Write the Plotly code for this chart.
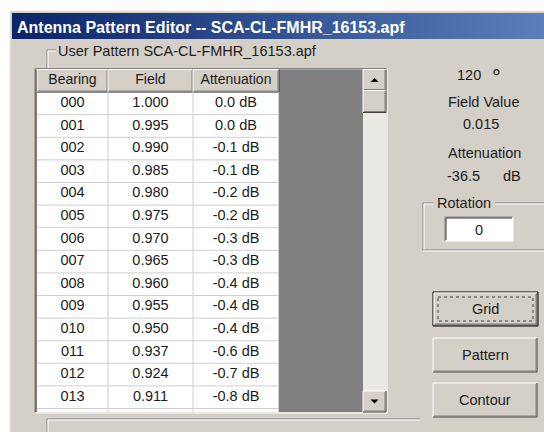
import plotly.graph_objects as go

# ---------------- data ----------------
columns = ["Bearing", "Field", "Attenuation"]
bearing = ["000", "001", "002", "003", "004", "005", "006", "007",
           "008", "009", "010", "011", "012", "013"]
field = [1.000, 0.995, 0.990, 0.985, 0.980, 0.975, 0.970, 0.965,
         0.960, 0.955, 0.950, 0.937, 0.924, 0.911]
attenuation_db = [0.0, 0.0, -0.1, -0.1, -0.2, -0.2, -0.3, -0.3,
                  -0.4, -0.4, -0.4, -0.6, -0.7, -0.8]
title_text = "Antenna Pattern Editor -- SCA-CL-FMHR_16153.apf"
group_text = "User Pattern SCA-CL-FMHR_16153.apf"
bearing_sel = "120"
field_value = "0.015"
atten_value = "-36.5"
rotation_value = "0"
buttons = ["Grid", "Pattern", "Contour"]

# ---------------- layout constants ----------------
W, H = 544, 432
FONT = "Liberation Sans, Arial, sans-serif"
FS = 14.5
TXT = "#1c1c1c"
BG = "#d4d0c8"
DARK = "#808080"
COL_EDGES = [37, 108, 193, 279]
HEAD_TOP = 69.5
ROW_H = 22.6
TABLE_BOTTOM = 412
SB_X0, SB_X1 = 363, 386

shapes = []


def rect(x0, y0, x1, y1, fill, line_color=None, lw=1, dash=None):
    d = dict(type="rect", x0=x0, y0=y0, x1=x1, y1=y1, xref="x", yref="y",
             fillcolor=fill, layer="below",
             line=dict(width=lw if line_color else 0, color=line_color or fill))
    if dash:
        d["line"]["dash"] = dash
    shapes.append(d)


def ln(x0, y0, x1, y1, color, w=1, dash=None):
    d = dict(type="line", x0=x0, y0=y0, x1=x1, y1=y1, xref="x", yref="y",
             layer="below", line=dict(color=color, width=w))
    if dash:
        d["line"]["dash"] = dash
    shapes.append(d)


def raised(x0, y0, x1, y1):
    rect(x0, y0, x1, y1, BG)
    ln(x0, y0, x1, y0, "white")
    ln(x0, y0, x0, y1, "white")
    ln(x0, y1, x1, y1, "#404040")
    ln(x1, y0, x1, y1, "#404040")
    ln(x0 + 1, y1 - 1, x1 - 1, y1 - 1, DARK)
    ln(x1 - 1, y0 + 1, x1 - 1, y1 - 1, DARK)


def sunken(x0, y0, x1, y1, fill="white"):
    rect(x0, y0, x1, y1, fill)
    ln(x0, y0, x1, y0, DARK)
    ln(x0, y0, x0, y1, DARK)
    ln(x0 + 1, y0 + 1, x1 - 1, y0 + 1, "#303030")
    ln(x0 + 1, y0 + 1, x0 + 1, y1 - 1, "#303030")
    ln(x0, y1, x1, y1, "white")
    ln(x1, y0, x1, y1, "white")


# window background
rect(10, 11, W + 2, H + 2, BG)
ln(10, 11, W + 2, 11, "#e8e6e2")
ln(10, 11, 10, H + 2, "#e8e6e2")

# title bar as a gradient-filled trace
fig = go.Figure()
fig.add_trace(go.Scatter(
    x=[12, W + 2, W + 2, 12, 12], y=[13, 13, 39, 39, 13], mode="lines",
    fill="toself", line=dict(width=0, color="#0a246a"),
    fillgradient=dict(type="horizontal",
                      colorscale=[[0, "#0a246a"], [1, "#5b7fba"]]),
    hoverinfo="skip", showlegend=False))

# groupbox (etched) around table
ln(47, 50, 56, 50, DARK)
ln(47, 51, 56, 51, "white")
ln(47, 50, 47, 69, DARK)
ln(48, 51, 48, 69, "white")
ln(47, 419, 420, 419, DARK)
ln(47, 420, 420, 420, "white")
ln(47, 419, 47, H + 2, DARK)
ln(48, 420, 48, H + 2, "white")

# table body
n_rows = len(bearing)
rect(COL_EDGES[0], HEAD_TOP, COL_EDGES[-1], TABLE_BOTTOM, "white")
rect(COL_EDGES[-1], HEAD_TOP, SB_X0, TABLE_BOTTOM, DARK)
# headers
for i in range(len(columns)):
    raised(COL_EDGES[i], HEAD_TOP, COL_EDGES[i + 1], HEAD_TOP + ROW_H)
# row grid lines
for r in range(n_rows):
    yb = HEAD_TOP + ROW_H * (r + 2)
    ln(COL_EDGES[0], yb, COL_EDGES[-1], yb, "#cfcfcf")
for xe in COL_EDGES[1:-1]:
    ln(xe, HEAD_TOP + ROW_H, xe, TABLE_BOTTOM, "#cfcfcf")
ln(COL_EDGES[-1] - 0.5, HEAD_TOP + ROW_H, COL_EDGES[-1] - 0.5, TABLE_BOTTOM, "#cfcfcf")
# table outer border
ln(35, HEAD_TOP - 1, SB_X1 + 1, HEAD_TOP - 1, DARK)
ln(35, HEAD_TOP - 1, 35, TABLE_BOTTOM + 1, DARK)
ln(36, HEAD_TOP, 36, TABLE_BOTTOM, "#303030")
ln(35, TABLE_BOTTOM + 1, SB_X1 + 1, TABLE_BOTTOM + 1, "white")
ln(SB_X1 + 1, HEAD_TOP - 1, SB_X1 + 1, TABLE_BOTTOM + 1, "white")

# scrollbar
rect(SB_X0, HEAD_TOP, SB_X1, TABLE_BOTTOM, "#ebe9e4")
raised(SB_X0, HEAD_TOP, SB_X1, HEAD_TOP + 21)
raised(SB_X0, HEAD_TOP + 21, SB_X1, HEAD_TOP + 43)
raised(SB_X0, TABLE_BOTTOM - 21, SB_X1, TABLE_BOTTOM)
cx = (SB_X0 + SB_X1) / 2
shapes.append(dict(type="path", xref="x", yref="y", layer="below",
                   path=f"M {cx-4},{HEAD_TOP+12.5} L {cx+4},{HEAD_TOP+12.5} L {cx},{HEAD_TOP+8.5} Z",
                   fillcolor="black", line=dict(width=0)))
shapes.append(dict(type="path", xref="x", yref="y", layer="below",
                   path=f"M {cx-4},{TABLE_BOTTOM-12.5} L {cx+4},{TABLE_BOTTOM-12.5} L {cx},{TABLE_BOTTOM-8.5} Z",
                   fillcolor="black", line=dict(width=0)))

# rotation groupbox
ln(423, 203, 433, 203, DARK); ln(423, 204, 433, 204, "white")
ln(495, 203, W + 2, 203, DARK); ln(495, 204, W + 2, 204, "white")
ln(423, 203, 423, 250, DARK); ln(424, 204, 424, 250, "white")
ln(423, 250, W + 2, 250, DARK); ln(423, 251, W + 2, 251, "white")
sunken(445, 217, 513, 241)

# buttons
btn_y = [(292, 326), (338, 372), (383, 417)]
for i, (y0, y1) in enumerate(btn_y):
    if i == 0:
        rect(433, y0, 538, y1, BG, "black", 1)
        raised(434, y0 + 1, 537, y1 - 1)
        rect(438, y0 + 5, 533, y1 - 5, "rgba(0,0,0,0)", "#404040", 1, dash="dot")
    else:
        raised(433, y0, 537, y1)

# ---------------- table text through axes ----------------
col_centers = [(COL_EDGES[i] + COL_EDGES[i + 1]) / 2 for i in range(len(columns))]
head_y = HEAD_TOP + ROW_H * 0.5
row_y = [HEAD_TOP + ROW_H * (i + 1.5) for i in range(n_rows)]
fig.add_trace(go.Scatter(
    x=col_centers, y=[head_y] * len(columns), text=columns, mode="text",
    textfont=dict(family=FONT, size=FS - 0.5, color=TXT),
    hoverinfo="skip", showlegend=False))
cells = [bearing,
         [f"{v:.3f}" for v in field],
         [f"{v:.1f} dB" for v in attenuation_db]]
for ci, vals in enumerate(cells):
    fig.add_trace(go.Scatter(
        x=[col_centers[ci]] * n_rows, y=row_y, text=vals, mode="text",
        textfont=dict(family=FONT, size=FS, color=TXT),
        hoverinfo="skip", showlegend=False))

# ---------------- annotations (labels) ----------------
ann = []


def txt(x, y, s, size=FS, color=TXT, anchor="center", bold=False, bg=None):
    a = dict(x=x, y=y, xref="x", yref="y", text=f"<b>{s}</b>" if bold else s,
             showarrow=False, xanchor=anchor, yanchor="middle",
             font=dict(family=FONT, size=size, color=color))
    if bg:
        a["bgcolor"] = bg
        a["borderpad"] = 0
    ann.append(a)


txt(15, 27, title_text, size=16, color="white", anchor="left", bold=True)
txt(57, 51, group_text, anchor="left", bg=BG)
txt(469, 75, bearing_sel)
txt(496, 77, "°", size=22)
txt(483, 102, "Field Value")
txt(481, 124, field_value)
txt(484, 153, "Attenuation")
txt(463, 176, atten_value)
txt(512, 176, "dB")
txt(464, 203, "Rotation", bg=BG)
txt(479, 230, rotation_value)
for b, (y0, y1) in zip(buttons, btn_y):
    txt(485, (y0 + y1) / 2, b)

fig.update_layout(
    width=W, height=H, margin=dict(l=0, r=0, t=0, b=0),
    paper_bgcolor="white", plot_bgcolor="white",
    xaxis=dict(range=[0, W], visible=False, fixedrange=True),
    yaxis=dict(range=[H, 0], visible=False, fixedrange=True),
    shapes=shapes, annotations=ann, showlegend=False)

fig.write_html("out.html", config={"displayModeBar": False},
               post_script="document.body.style.margin='0';document.body.style.overflow='hidden';")
